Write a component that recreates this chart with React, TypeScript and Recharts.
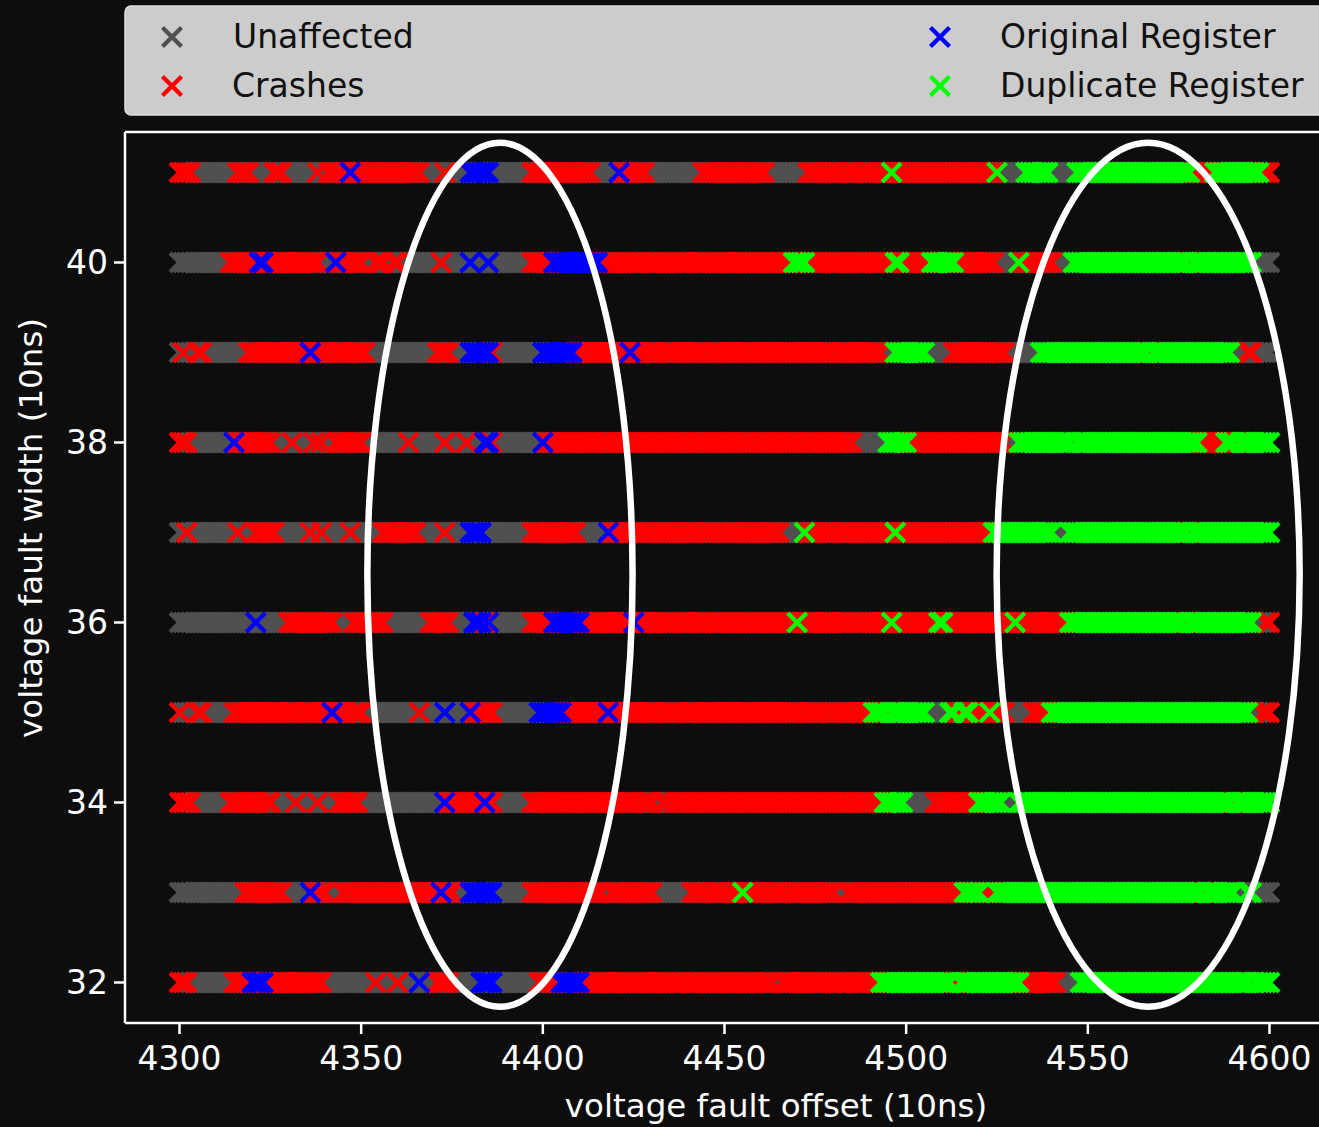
import React from 'react';
import { ScatterChart, Scatter, XAxis, YAxis, ReferenceArea, ReferenceLine } from 'recharts';

type Cat = 'U' | 'C' | 'O' | 'D';
type Run = [number, Cat];

const offsetEnd = 4600;
const xTicks = [4300, 4350, 4400, 4450, 4500, 4550, 4600];
const yTicks = [32, 34, 36, 38, 40];

// outcome runs per fault width: [first offset, outcome]; a run lasts until the next one starts
const runs41: Run[] = [
  [4300, 'C'], [4304, 'U'], [4316, 'C'], [4320, 'U'], [4326, 'C'], [4329, 'U'], [4338, 'C'], [4339, 'U'],
  [4341, 'C'], [4347, 'O'], [4348, 'C'], [4367, 'U'], [4373, 'C'], [4374, 'U'], [4380, 'O'], [4386, 'U'],
  [4397, 'C'], [4414, 'U'], [4421, 'O'], [4422, 'C'], [4429, 'U'], [4444, 'C'], [4462, 'U'], [4473, 'C'],
  [4482, 'U'], [4483, 'C'], [4491, 'U'], [4492, 'C'], [4496, 'D'], [4497, 'C'], [4525, 'D'], [4526, 'U'],
  [4533, 'D'], [4540, 'U'], [4547, 'D'], [4579, 'C'], [4585, 'D'], [4598, 'C'],
];
const runs40: Run[] = [
  [4300, 'U'], [4314, 'C'], [4322, 'O'], [4324, 'C'], [4339, 'U'], [4343, 'O'], [4344, 'C'], [4351, 'U'],
  [4354, 'C'], [4357, 'U'], [4359, 'C'], [4361, 'U'], [4372, 'C'], [4373, 'U'], [4380, 'O'], [4381, 'U'],
  [4385, 'O'], [4386, 'U'], [4397, 'C'], [4403, 'O'], [4416, 'C'], [4428, 'U'], [4429, 'C'], [4441, 'U'],
  [4442, 'C'], [4469, 'D'], [4473, 'C'], [4478, 'U'], [4479, 'C'], [4490, 'U'], [4491, 'C'], [4497, 'D'],
  [4499, 'C'], [4507, 'D'], [4514, 'C'], [4525, 'U'], [4531, 'D'], [4532, 'C'], [4541, 'U'], [4546, 'D'],
  [4578, 'C'], [4579, 'D'], [4596, 'U'],
];
const runs39: Run[] = [
  [4300, 'U'], [4301, 'C'], [4302, 'U'], [4305, 'C'], [4307, 'U'], [4319, 'C'], [4336, 'O'], [4337, 'C'],
  [4342, 'U'], [4343, 'C'], [4352, 'U'], [4371, 'C'], [4375, 'U'], [4380, 'O'], [4386, 'C'], [4387, 'U'],
  [4400, 'O'], [4409, 'C'], [4424, 'O'], [4425, 'C'], [4433, 'U'], [4434, 'C'], [4445, 'U'], [4446, 'C'],
  [4480, 'U'], [4481, 'C'], [4494, 'U'], [4497, 'D'], [4506, 'U'], [4513, 'C'], [4528, 'U'], [4537, 'D'],
  [4567, 'C'], [4568, 'D'], [4590, 'U'], [4594, 'C'], [4596, 'U'],
];
const runs38: Run[] = [
  [4300, 'C'], [4303, 'U'], [4315, 'O'], [4316, 'C'], [4326, 'U'], [4331, 'C'], [4332, 'U'], [4337, 'C'],
  [4338, 'U'], [4339, 'C'], [4340, 'U'], [4343, 'C'], [4351, 'U'], [4363, 'C'], [4364, 'U'], [4373, 'C'],
  [4374, 'U'], [4379, 'C'], [4380, 'U'], [4384, 'O'], [4386, 'C'], [4387, 'U'], [4400, 'O'], [4401, 'C'],
  [4420, 'U'], [4421, 'C'], [4441, 'U'], [4442, 'C'], [4458, 'U'], [4459, 'C'], [4471, 'U'], [4472, 'C'],
  [4486, 'U'], [4495, 'D'], [4501, 'C'], [4528, 'U'], [4531, 'D'], [4546, 'U'], [4547, 'D'], [4581, 'C'],
  [4588, 'D'], [4591, 'C'], [4592, 'D'],
];
const runs37: Run[] = [
  [4300, 'U'], [4302, 'C'], [4303, 'U'], [4316, 'C'], [4317, 'U'], [4321, 'C'], [4327, 'U'], [4336, 'C'],
  [4337, 'U'], [4339, 'C'], [4340, 'U'], [4347, 'C'], [4348, 'U'], [4356, 'C'], [4366, 'U'], [4373, 'C'],
  [4374, 'U'], [4380, 'O'], [4384, 'U'], [4397, 'C'], [4410, 'U'], [4418, 'O'], [4419, 'C'], [4431, 'U'],
  [4432, 'C'], [4444, 'U'], [4445, 'C'], [4447, 'U'], [4448, 'C'], [4450, 'U'], [4451, 'C'], [4466, 'U'],
  [4472, 'D'], [4473, 'C'], [4481, 'U'], [4482, 'C'], [4497, 'D'], [4498, 'C'], [4524, 'D'], [4541, 'U'],
  [4545, 'D'], [4578, 'C'], [4579, 'D'],
];
const runs36: Run[] = [
  [4300, 'U'], [4321, 'O'], [4322, 'U'], [4330, 'C'], [4343, 'U'], [4348, 'C'], [4357, 'U'], [4369, 'C'],
  [4375, 'U'], [4381, 'O'], [4384, 'C'], [4385, 'O'], [4386, 'U'], [4397, 'C'], [4403, 'O'], [4411, 'C'],
  [4425, 'O'], [4426, 'C'], [4437, 'U'], [4438, 'C'], [4446, 'U'], [4447, 'C'], [4470, 'D'], [4471, 'C'],
  [4485, 'U'], [4486, 'C'], [4488, 'U'], [4489, 'C'], [4496, 'D'], [4497, 'C'], [4509, 'D'], [4511, 'C'],
  [4530, 'D'], [4531, 'C'], [4545, 'D'], [4577, 'C'], [4578, 'D'], [4596, 'U'], [4599, 'C'],
];
const runs35: Run[] = [
  [4300, 'C'], [4301, 'U'], [4305, 'C'], [4307, 'U'], [4315, 'C'], [4333, 'U'], [4334, 'C'], [4342, 'O'],
  [4343, 'C'], [4347, 'U'], [4348, 'C'], [4351, 'U'], [4366, 'C'], [4367, 'U'], [4373, 'O'], [4374, 'U'],
  [4380, 'O'], [4381, 'C'], [4387, 'U'], [4399, 'O'], [4406, 'C'], [4418, 'O'], [4419, 'C'], [4432, 'U'],
  [4433, 'C'], [4438, 'U'], [4439, 'C'], [4471, 'U'], [4472, 'C'], [4478, 'U'], [4479, 'C'], [4481, 'U'],
  [4482, 'C'], [4491, 'D'], [4495, 'C'], [4496, 'D'], [4506, 'U'], [4512, 'D'], [4514, 'C'], [4516, 'D'],
  [4518, 'C'], [4523, 'D'], [4524, 'C'], [4528, 'U'], [4535, 'C'], [4540, 'D'], [4595, 'U'], [4598, 'C'],
];
const runs34: Run[] = [
  [4300, 'C'], [4304, 'U'], [4314, 'C'], [4323, 'U'], [4324, 'C'], [4326, 'U'], [4332, 'C'], [4333, 'U'],
  [4338, 'C'], [4339, 'U'], [4344, 'C'], [4350, 'U'], [4373, 'O'], [4374, 'C'], [4384, 'O'], [4385, 'C'],
  [4387, 'U'], [4397, 'C'], [4426, 'U'], [4427, 'C'], [4431, 'U'], [4433, 'C'], [4435, 'U'], [4436, 'C'],
  [4485, 'U'], [4486, 'C'], [4491, 'U'], [4492, 'C'], [4494, 'D'], [4500, 'U'], [4508, 'C'], [4520, 'D'],
  [4527, 'U'], [4531, 'D'], [4590, 'C'], [4591, 'D'],
];
const runs33: Run[] = [
  [4300, 'U'], [4318, 'C'], [4329, 'U'], [4336, 'O'], [4337, 'C'], [4341, 'U'], [4345, 'C'], [4372, 'O'],
  [4373, 'C'], [4376, 'U'], [4380, 'O'], [4387, 'U'], [4397, 'C'], [4417, 'U'], [4419, 'C'], [4431, 'U'],
  [4441, 'C'], [4446, 'U'], [4447, 'C'], [4455, 'D'], [4456, 'C'], [4467, 'U'], [4468, 'C'], [4481, 'U'],
  [4484, 'C'], [4516, 'D'], [4521, 'C'], [4525, 'D'], [4582, 'C'], [4583, 'D'], [4591, 'U'], [4594, 'D'],
  [4596, 'U'],
];
const runs32: Run[] = [
  [4300, 'C'], [4303, 'U'], [4315, 'C'], [4320, 'O'], [4324, 'C'], [4340, 'U'], [4354, 'C'], [4355, 'U'],
  [4360, 'C'], [4361, 'U'], [4366, 'O'], [4367, 'U'], [4371, 'C'], [4375, 'U'], [4383, 'O'], [4387, 'U'],
  [4399, 'C'], [4404, 'U'], [4405, 'O'], [4411, 'C'], [4439, 'U'], [4440, 'C'], [4464, 'U'], [4466, 'C'],
  [4478, 'U'], [4479, 'C'], [4485, 'U'], [4486, 'C'], [4493, 'D'], [4513, 'C'], [4515, 'D'], [4532, 'C'],
  [4542, 'U'], [4548, 'D'], [4595, 'U'], [4596, 'D'],
];

const widthRows: [number, Run[]][] = [
  [41, runs41], [40, runs40], [39, runs39], [38, runs38], [37, runs37],
  [36, runs36], [35, runs35], [34, runs34], [33, runs33], [32, runs32],
];

const categories: { key: Cat; name: string; color: string }[] = [
  { key: 'U', name: 'Unaffected', color: '#505050' },
  { key: 'C', name: 'Crashes', color: '#ff0000' },
  { key: 'O', name: 'Original Register', color: '#0000ff' },
  { key: 'D', name: 'Duplicate Register', color: '#00ff00' },
];

// highlighted regions (ellipses) in data units
const highlightOffsets: [number, number][] = [[4351.7, 4424.7], [4524.9, 4608.3]];
const highlightWidths: [number, number] = [31.73, 41.33];

const points: Record<Cat, { x: number; y: number }[]> = { U: [], C: [], O: [], D: [] };
widthRows.forEach(([w, runs]) => {
  runs.forEach(([start, cat], i) => {
    const end = i + 1 < runs.length ? runs[i + 1][0] - 1 : offsetEnd;
    for (let x = start; x <= end; x++) points[cat].push({ x, y: w });
  });
});

const FONT = 'DejaVu Sans';
const ARM = 9.5;
const STROKE = 4.3;

const crossPath = (cx: number, cy: number) =>
  `M${cx - ARM},${cy - ARM}L${cx + ARM},${cy + ARM}M${cx - ARM},${cy + ARM}L${cx + ARM},${cy - ARM}`;

const crossShape = (color: string) => (p: any) => {
  if (p.cx == null || p.cy == null) return <g />;
  return <path d={crossPath(p.cx, p.cy)} stroke={color} strokeWidth={STROKE} fill="none" />;
};

const ellipseShape = (p: any) => (
  <ellipse
    cx={p.x + p.width / 2}
    cy={p.y + p.height / 2}
    rx={p.width / 2}
    ry={p.height / 2}
    fill="none"
    stroke="#ffffff"
    strokeWidth={6.5}
  />
);

const App: React.FC = () => {
  const legendPos = [
    { x: 172, y: 37, tx: 233 },
    { x: 172, y: 86, tx: 232 },
    { x: 940, y: 37, tx: 1000 },
    { x: 940, y: 86, tx: 1000 },
  ];
  return (
    <div style={{ position: 'fixed', inset: 0, background: '#0d0d0d', overflow: 'hidden' }}>
      <div style={{ position: 'absolute', left: 0, top: 0 }}>
        <ScatterChart width={1330} height={1127} margin={{ top: 132, right: 6, bottom: 0, left: 0 }}>
          <XAxis
            type="number"
            dataKey="x"
            domain={[4285, 4615]}
            ticks={xTicks}
            interval={0}
            allowDataOverflow
            height={104}
            axisLine={{ stroke: '#ffffff', strokeWidth: 2.5 }}
            tickLine={{ stroke: '#ffffff', strokeWidth: 2.5 }}
            tickSize={11}
            tickMargin={13}
            tick={{ fill: '#ffffff', fontSize: 33, fontFamily: FONT }}
          />
          <YAxis
            type="number"
            dataKey="y"
            domain={[31.55, 41.45]}
            ticks={yTicks}
            interval={0}
            allowDataOverflow
            width={125}
            axisLine={{ stroke: '#ffffff', strokeWidth: 2.5 }}
            tickLine={{ stroke: '#ffffff', strokeWidth: 2.5 }}
            tickSize={11}
            tickMargin={6}
            tick={{ fill: '#ffffff', fontSize: 33, fontFamily: FONT }}
          />
          {categories.map((c) => (
            <Scatter
              key={c.key}
              name={c.name}
              data={points[c.key]}
              fill={c.color}
              shape={crossShape(c.color)}
              isAnimationActive={false}
            />
          ))}
          <ReferenceLine y={41.45} stroke="#ffffff" strokeWidth={2.5} zIndex={2000} />
          {highlightOffsets.map(([x1, x2], i) => (
            <ReferenceArea
              key={i}
              x1={x1}
              x2={x2}
              y1={highlightWidths[0]}
              y2={highlightWidths[1]}
              shape={ellipseShape}
              zIndex={2000}
            />
          ))}
        </ScatterChart>
      </div>
      <svg
        width={1330}
        height={1127}
        style={{ position: 'absolute', left: 0, top: 0, pointerEvents: 'none' }}
        fontFamily={FONT}
      >
        <rect x={125} y={6} width={1300} height={109} rx={6} fill="#cccccc" stroke="#dddddd" strokeWidth={1.5} />
        {categories.map((c, i) => (
          <g key={c.key}>
            <path d={crossPath(legendPos[i].x, legendPos[i].y)} stroke={c.color} strokeWidth={STROKE} fill="none" />
            <text x={legendPos[i].tx} y={legendPos[i].y + 11} fontSize={33} fill="#111111">
              {c.name}
            </text>
          </g>
        ))}
        <text x={776} y={1117} textAnchor="middle" fontSize={32.5} fill="#ffffff">
          voltage fault offset (10ns)
        </text>
        <text x={42} y={528} textAnchor="middle" fontSize={32.5} fill="#ffffff" transform="rotate(-90 42 528)">
          voltage fault width (10ns)
        </text>
      </svg>
    </div>
  );
};

export default App;
